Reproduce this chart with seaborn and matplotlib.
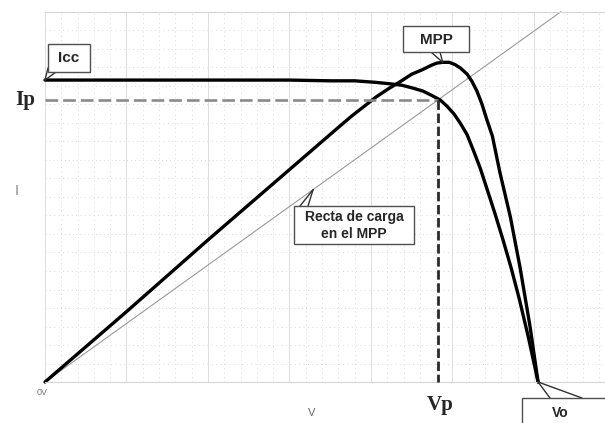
import numpy as np
import matplotlib
matplotlib.use("Agg")
import matplotlib.pyplot as plt
import seaborn as sns
from matplotlib.patches import Rectangle

# ---- data (x: voltage in grid divisions, y: current / power in grid units) ----
volt_iv = [0.0, 1.0, 2.0, 3.0, 3.5, 3.8, 4.05, 4.23, 4.38, 4.52, 4.64, 4.75, 4.85,
           4.93, 5.02, 5.10, 5.18, 5.26, 5.34, 5.42, 5.52, 5.62, 5.72, 5.82, 5.93, 6.05]
curr_iv = [4.08, 4.08, 4.08, 4.08, 4.07, 4.07, 4.05, 4.03, 4.01, 3.97, 3.93, 3.87, 3.81,
           3.73, 3.62, 3.49, 3.34, 3.12, 2.89, 2.62, 2.28, 1.92, 1.54, 1.12, 0.61, 0.0]

volt_pw = [0.0, 1.01, 2.0, 3.01, 3.62, 3.77, 3.91, 4.06, 4.21, 4.36, 4.50, 4.63, 4.74,
           4.81, 4.88, 4.96, 5.03, 5.10, 5.18, 5.24, 5.30, 5.36, 5.42, 5.49, 5.58,
           5.71, 5.83, 5.95, 6.05]
power_pw = [0.0, 0.96, 1.92, 2.88, 3.46, 3.60, 3.72, 3.85, 3.96, 4.06, 4.16, 4.22, 4.28,
            4.31, 4.32, 4.32, 4.29, 4.24, 4.16, 4.06, 3.93, 3.76, 3.55, 3.32, 2.84,
            2.23, 1.54, 0.76, 0.0]

V_p = 4.82
I_p = 3.81
V_oc = 6.05
I_cc = 4.08
load_v = [0.0, 6.33]
load_note_v = 3.29

labels = {"icc": "Icc", "mpp": "MPP", "vo": "Vo", "ip": "Ip", "vp": "Vp",
          "recta": "Recta de carga\nen el MPP", "zero": "0V", "xlab": "V", "ylab": "I"}

sns.set_style("white")
plt.rcParams['font.family'] = ['Liberation Sans', 'DejaVu Sans']

W, H = 605, 423
fig = plt.figure(figsize=(W / 100, H / 100), dpi=100)
ax = fig.add_axes([45 / W, 41 / H, 560 / W, 370 / H])
ax.set_xlim(0, 560 / 81.5)
ax.set_ylim(0, 5)

# grid
ax.set_xticks(np.arange(0, 7, 1.0))
ax.set_xticks(np.arange(0, 7, 0.2), minor=True)
ax.set_yticks(np.arange(0, 5.01, 1.0))
ax.set_yticks(np.arange(0, 5.01, 0.25), minor=True)
ax.tick_params(which='both', length=0, labelbottom=False, labelleft=False)
ax.grid(which='major', axis='x', color='#dedede', lw=0.7, ls='-')
ax.grid(which='major', axis='y', color='#dadada', lw=0.7, ls=(0, (1, 3)))
ax.grid(which='minor', color='#dcdcdc', lw=0.7, ls=(0, (1, 3.5)))
ax.set_axisbelow(True)
for s in ['left', 'right']:
    ax.spines[s].set_visible(False)
for s in ['top', 'bottom']:
    ax.spines[s].set_color('#d4d4d4')
    ax.spines[s].set_linewidth(0.8)

# load line
slope = I_p / V_p
load_i = [v * slope for v in load_v]
sns.lineplot(x=load_v, y=load_i, ax=ax, color='#9a9a9a', lw=0.8, estimator=None, sort=False)

# guides
ax.plot([0, V_p], [I_p, I_p], color='#8a8a8a', lw=1.9, dashes=(4.8, 1.9), zorder=3)
ax.plot([V_p, V_p], [I_p, 0], color='#2a2a2a', lw=2.0, dashes=(3.4, 1.3), zorder=3)

# curves
sns.lineplot(x=volt_iv, y=curr_iv, ax=ax, color='black', lw=2.4, estimator=None, sort=False)
sns.lineplot(x=volt_pw, y=power_pw, ax=ax, color='black', lw=2.4, estimator=None, sort=False)
for ln in ax.lines:
    ln.set_clip_on(False)
    ln.set_solid_capstyle('round')
    ln.set_solid_joinstyle('round')


def px(x, y):
    return (x / W, 1 - y / H)


def box(x0, y0, x1, y1):
    fig.add_artist(Rectangle(px(x0, y1), (x1 - x0) / W, (y1 - y0) / H,
                             transform=fig.transFigure, fc='white', ec='#505050',
                             lw=1.0, zorder=5))


def tail(xf, yf, xd, yd):
    ax.annotate("", xy=(xd, yd), xycoords='data', xytext=px(xf, yf),
                textcoords='figure fraction',
                arrowprops=dict(arrowstyle='-', color='#303030', lw=1.0,
                                shrinkA=0, shrinkB=0), annotation_clip=False)


# Icc callout
tail(48, 68, 0, I_cc)
tail(56, 72, 0, I_cc)
box(48, 44, 90, 72)
fig.text(*px(69, 58), labels["icc"], ha='center', va='center', fontsize=11,
         fontweight='bold', zorder=6)

# MPP callout
i_max = int(np.argmax(power_pw))
tail(431, 52, volt_pw[i_max], power_pw[i_max])
tail(440, 52, volt_pw[i_max], power_pw[i_max])
box(403, 26, 469, 52)
fig.text(*px(436, 39.5), labels["mpp"], ha='center', va='center', fontsize=11,
         fontweight='bold', zorder=6)

# Vo callout
tail(550, 398, V_oc, 0)
tail(582, 398, V_oc, 0)
box(522, 398, 620, 440)
fig.text(*px(560, 413), labels["vo"], ha='center', va='center', fontsize=10,
         fontweight='bold', zorder=6)

# load line callout
tail(300, 206, load_note_v, load_note_v * slope)
tail(308, 206, load_note_v, load_note_v * slope)
box(294, 206, 414, 244)
fig.text(*px(354, 225.5), labels["recta"], ha='center', va='center', fontsize=10,
         fontweight='bold', zorder=6, linespacing=1.2)

# big serif labels
fig.text(*px(25, 100), labels["ip"], ha='center', va='center', fontsize=15,
         fontweight='bold', family='Liberation Serif')
fig.text(*px(440, 405), labels["vp"], ha='center', va='center', fontsize=15,
         fontweight='bold', family='Liberation Serif')

# small axis labels
fig.text(*px(42, 392), labels["zero"], ha='center', va='center', fontsize=6.5, color='#777777')
fig.text(*px(312, 413), labels["xlab"], ha='center', va='center', fontsize=8, color='#666666')
fig.text(*px(17, 191), labels["ylab"], ha='center', va='center', fontsize=10, color='#888888',
         family='DejaVu Sans')

fig.savefig("out.png", dpi=100)
